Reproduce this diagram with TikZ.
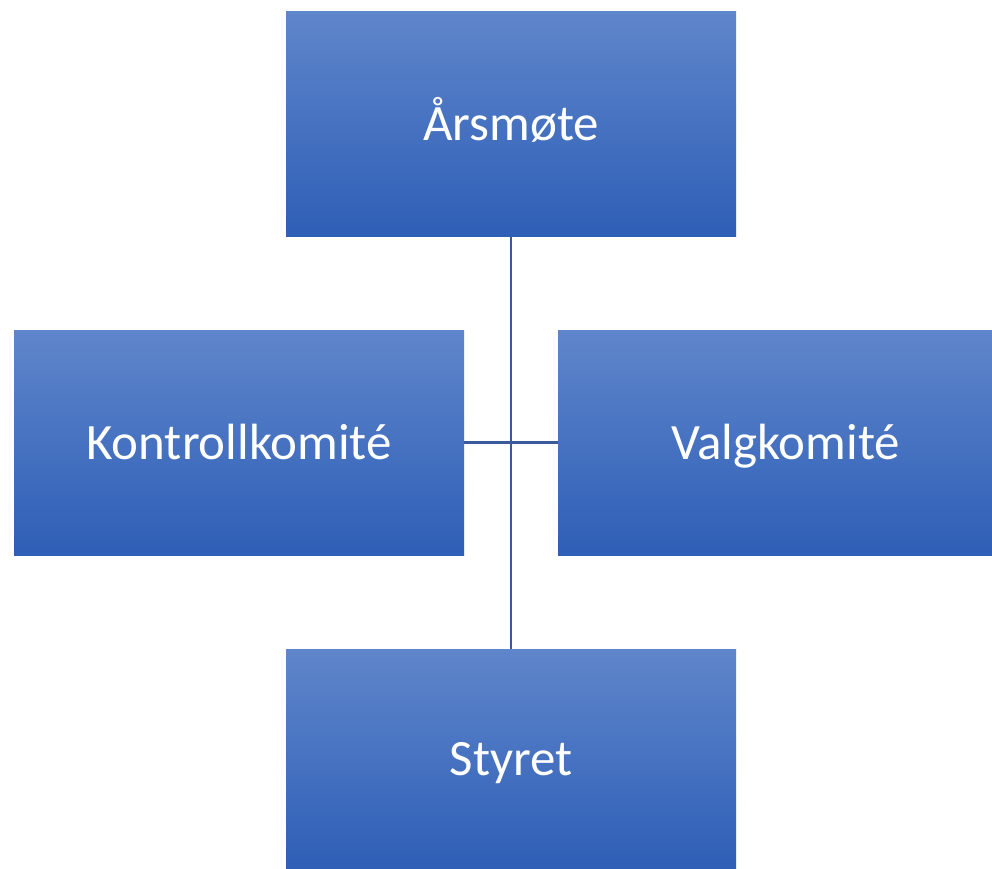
\documentclass[tikz,border=0pt]{standalone}
\usepackage{fontspec}
\setmainfont{Carlito}
\definecolor{boxtop}{HTML}{5F86CB}
\definecolor{boxbot}{HTML}{2E5EB6}
\definecolor{linec}{HTML}{3A5A9E}
\newcommand{\lifttext}[1]{\raisebox{-9.5pt}[0pt][0pt]{#1}}
\begin{document}
\begin{tikzpicture}[x=0.02cm,y=-0.02cm,
  orgbox/.style={rectangle, top color=boxtop, bottom color=boxbot, draw=none,
    inner sep=0pt, text=white, font=\fontsize{29}{34}\selectfont},
  conn/.style={draw=linec, line width=1.3pt}]
\useasboundingbox (0,0) rectangle (992,869);
\node[orgbox, minimum width=450*0.02cm, minimum height=225*0.02cm] (a) at (511,124) {\lifttext{Årsmøte}};
\node[orgbox, minimum width=450*0.02cm, minimum height=225*0.02cm] (k) at (239,442.5) {\lifttext{Kontrollkomité}};
\node[orgbox, minimum width=434*0.02cm, minimum height=225*0.02cm] (v) at (775,442.5) {\lifttext{\hspace{12pt}Valgkomité}};
\node[orgbox, minimum width=450*0.02cm, minimum height=220*0.02cm] (s) at (511,759) {\lifttext{Styret}};
\draw[conn] (a.south) -- (s.north);
\draw[conn] (k.east) -- (v.west);
\end{tikzpicture}
\end{document}
